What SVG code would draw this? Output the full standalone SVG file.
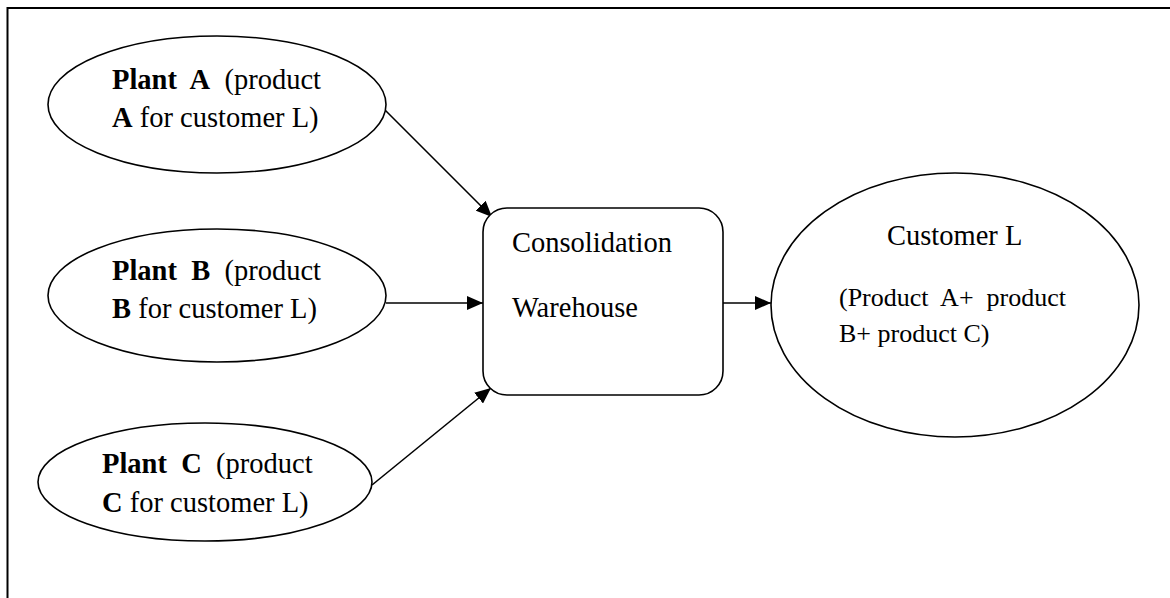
<svg xmlns="http://www.w3.org/2000/svg" width="1170" height="598" viewBox="0 0 1170 598">
  <style>
    .shape { fill: #ffffff; stroke: #000000; stroke-width: 1.6; }
    .frame { fill: none; stroke: #000000; stroke-width: 2; }
    .conn { stroke: #000000; stroke-width: 1.6; fill: none; marker-end: url(#arrow); }
    .t { font-family: "Liberation Serif", "Times New Roman", serif; font-size: 28.5px; fill: #000000; white-space: pre; }
    .s { font-family: "Liberation Serif", "Times New Roman", serif; font-size: 26px; fill: #000000; white-space: pre; }
    .b { font-weight: bold; }
  </style>
  <defs>
    <marker id="arrow" markerUnits="userSpaceOnUse" markerWidth="16" markerHeight="14" refX="16" refY="7" orient="auto">
      <path d="M0,0 L16,7 L0,14 Z" fill="#000000"/>
    </marker>
  </defs>

  <rect width="1170" height="598" fill="#ffffff"/>
  <!-- page frame (top and left edges) -->
  <path class="frame" d="M7.5,598 L7.5,8 L1170,8"/>

  <g id="connectors">
    <line class="conn" x1="385" y1="110" x2="492" y2="217"/>
    <line class="conn" x1="386" y1="303" x2="483" y2="303"/>
    <line class="conn" x1="372" y1="485" x2="491" y2="388"/>
    <line class="conn" x1="723" y1="303" x2="771" y2="303"/>
  </g>

  <g id="plant-a">
    <ellipse class="shape" cx="217" cy="104.5" rx="169" ry="68.5"/>
    <text class="t" x="112" y="89" xml:space="preserve"><tspan class="b">Plant  A</tspan>  (product</text>
    <text class="t" x="112" y="127"><tspan class="b">A</tspan> for customer L)</text>
  </g>

  <g id="plant-b">
    <ellipse class="shape" cx="217" cy="295.5" rx="169" ry="66.5"/>
    <text class="t" x="112" y="280" xml:space="preserve"><tspan class="b">Plant  B</tspan>  (product</text>
    <text class="t" x="112" y="318"><tspan class="b">B</tspan> for customer L)</text>
  </g>

  <g id="plant-c">
    <ellipse class="shape" cx="205" cy="482" rx="167" ry="59"/>
    <text class="t" x="102" y="473" xml:space="preserve"><tspan class="b">Plant  C</tspan>  (product</text>
    <text class="t" x="102" y="512"><tspan class="b">C</tspan> for customer L)</text>
  </g>

  <g id="warehouse">
    <rect class="shape" x="483" y="208" width="240" height="187" rx="24" ry="24"/>
    <text class="t" x="512" y="252">Consolidation</text>
    <text class="t" x="512" y="317">Warehouse</text>
  </g>

  <g id="customer-l">
    <ellipse class="shape" cx="955" cy="305" rx="184" ry="132"/>
    <text class="t" x="887" y="245">Customer L</text>
    <text class="s" x="839" y="306" xml:space="preserve">(Product  A+  product</text>
    <text class="s" x="839" y="342">B+ product C)</text>
  </g>
</svg>
